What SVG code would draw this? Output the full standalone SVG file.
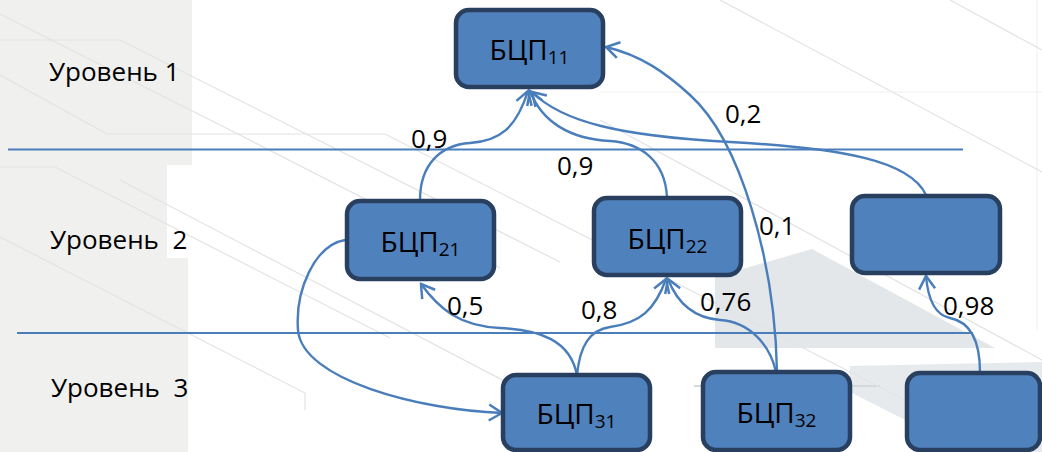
<svg xmlns="http://www.w3.org/2000/svg" width="1042" height="452" viewBox="0 0 1042 452">
  <defs>
    <style>
      .lvl { font-family: "Open Sans", "Liberation Sans", sans-serif; font-size: 26px; fill: #000; }
      .w { font-family: "Open Sans", "Liberation Sans", sans-serif; font-size: 26px; fill: #000; }
      .nt { font-family: "Open Sans", "Liberation Sans", sans-serif; font-size: 28px; fill: #000; text-anchor: middle; }
      .sub { font-size: 19px; }
      .box { fill: #4f81bd; stroke: #283f5f; stroke-width: 4.5; }
      .edge { fill: none; stroke: #4a7ebb; stroke-width: 2.4; marker-end: url(#arr); }
      .sep { stroke: #4a7ebb; stroke-width: 2; }
      .deco { fill: none; stroke: #e3e3e3; stroke-width: 1.2; }
    </style>
    <marker id="arr" viewBox="-15 -10 17 20" markerWidth="17" markerHeight="20" refX="0" refY="0" orient="auto" markerUnits="userSpaceOnUse">
      <path d="M-13,-8 L0,0 L-13,8" fill="none" stroke="#4a7ebb" stroke-width="2.5" stroke-linejoin="miter"/>
    </marker>
  </defs>

  <!-- backdrop -->
  <g id="backdrop">
    <rect x="0" y="0" width="1042" height="452" fill="#ffffff"/>
    <rect x="0" y="0" width="192" height="452" fill="#f0f0ef"/>
    <rect x="167" y="165" width="26" height="93" fill="#ffffff"/>
    <rect x="188" y="258" width="5" height="194" fill="#ffffff"/>
    <polygon points="715,277 812,249 995,348 715,348" fill="#e3e7e9"/>
    <polygon points="850,366 1042,362 1042,452 968,452 850,392" fill="#e6eaec"/>
    <line x1="694" y1="386" x2="880" y2="386" stroke="#d6d9db" stroke-width="2"/>
    <line x1="600" y1="92" x2="1042" y2="92" stroke="#efefef" stroke-width="1"/>
    <line x1="1037" y1="0" x2="1037" y2="330" stroke="#efefef" stroke-width="1"/>
    <polyline class="deco" points="0,40 120,40 560,262"/>
    <polyline class="deco" points="0,75 107,134 385,134 1042,470"/>
    <polyline class="deco" points="0,14 230,130 500,268"/>
    <polyline class="deco" points="0,167 55,167 390,338"/>
    <polyline class="deco" points="0,237 305,393 305,410"/>
    <line class="deco" x1="120" y1="180" x2="640" y2="452"/>
    <line class="deco" x1="720" y1="0" x2="1042" y2="172"/>
    <line class="deco" x1="950" y1="0" x2="1042" y2="50"/>
    <line class="deco" x1="600" y1="120" x2="1042" y2="360"/>
  </g>

  <!-- level separators and titles -->
  <g id="levels">
    <line class="sep" x1="8" y1="149.5" x2="963" y2="149.5"/>
    <line class="sep" x1="17" y1="333" x2="973" y2="333"/>
    <text class="lvl" x="49" y="81">Уровень 1</text>
    <text class="lvl" x="50" y="249" xml:space="preserve">Уровень  2</text>
    <text class="lvl" x="51" y="397" xml:space="preserve">Уровень  3</text>
  </g>

  <!-- connectors -->
  <g id="connectors">
    <path class="edge" d="M420,200 C420,165 440,145 470,143 C500,141 516,128 528,91"/>
    <path class="edge" d="M667,197 C665,160 640,143 610,141 C570,139 542,122 530,91"/>
    <path class="edge" d="M926,195 C910,160 840,148 730,142 C620,136 562,122 532,92"/>
    <path class="edge" d="M777,372 C775,260 740,140 690,95 C665,72 640,55 606,47"/>
    <path class="edge" d="M345,240 C315,245 295,290 298,330 C302,380 420,410 502,413"/>
    <path class="edge" d="M577,375 C570,340 540,330 500,328 C460,326 440,310 421,284"/>
    <path class="edge" d="M577,375 C580,345 590,330 610,327 C640,323 655,310 666,279"/>
    <path class="edge" d="M776,372 C770,345 750,322 720,320 C695,318 678,305 668,279"/>
    <path class="edge" d="M980,372 C980,340 970,322 950,318 C935,315 928,300 926,276"/>
  </g>

  <!-- connector weights -->
  <g id="weights">
    <text class="w" x="411" y="148">0,9</text>
    <text class="w" x="557" y="175">0,9</text>
    <text class="w" x="725" y="123">0,2</text>
    <text class="w" x="759" y="235">0,1</text>
    <text class="w" x="447" y="315">0,5</text>
    <text class="w" x="581" y="319">0,8</text>
    <text class="w" x="700" y="311">0,76</text>
    <text class="w" x="943" y="315">0,98</text>
  </g>

  <g id="n11">
    <rect class="box" x="456" y="10" width="147" height="77" rx="13"/>
    <text class="nt" x="529.5" y="60">БЦП<tspan class="sub" dy="4">11</tspan></text>
  </g>
  <g id="n21">
    <rect class="box" x="347" y="201" width="147" height="78" rx="13"/>
    <text class="nt" x="420.5" y="252">БЦП<tspan class="sub" dy="4">21</tspan></text>
  </g>
  <g id="n22">
    <rect class="box" x="594" y="198" width="147" height="77" rx="13"/>
    <text class="nt" x="667.5" y="249">БЦП<tspan class="sub" dy="4">22</tspan></text>
  </g>
  <g id="n23">
    <rect class="box" x="852" y="196" width="148" height="77" rx="13"/>
  </g>
  <g id="n31">
    <rect class="box" x="503" y="375" width="147" height="75" rx="13"/>
    <text class="nt" x="576.5" y="424">БЦП<tspan class="sub" dy="4">31</tspan></text>
  </g>
  <g id="n32">
    <rect class="box" x="703" y="372" width="147" height="78" rx="13"/>
    <text class="nt" x="776.5" y="423">БЦП<tspan class="sub" dy="4">32</tspan></text>
  </g>
  <g id="n33">
    <rect class="box" x="907" y="373" width="133" height="77" rx="13"/>
  </g>
</svg>
